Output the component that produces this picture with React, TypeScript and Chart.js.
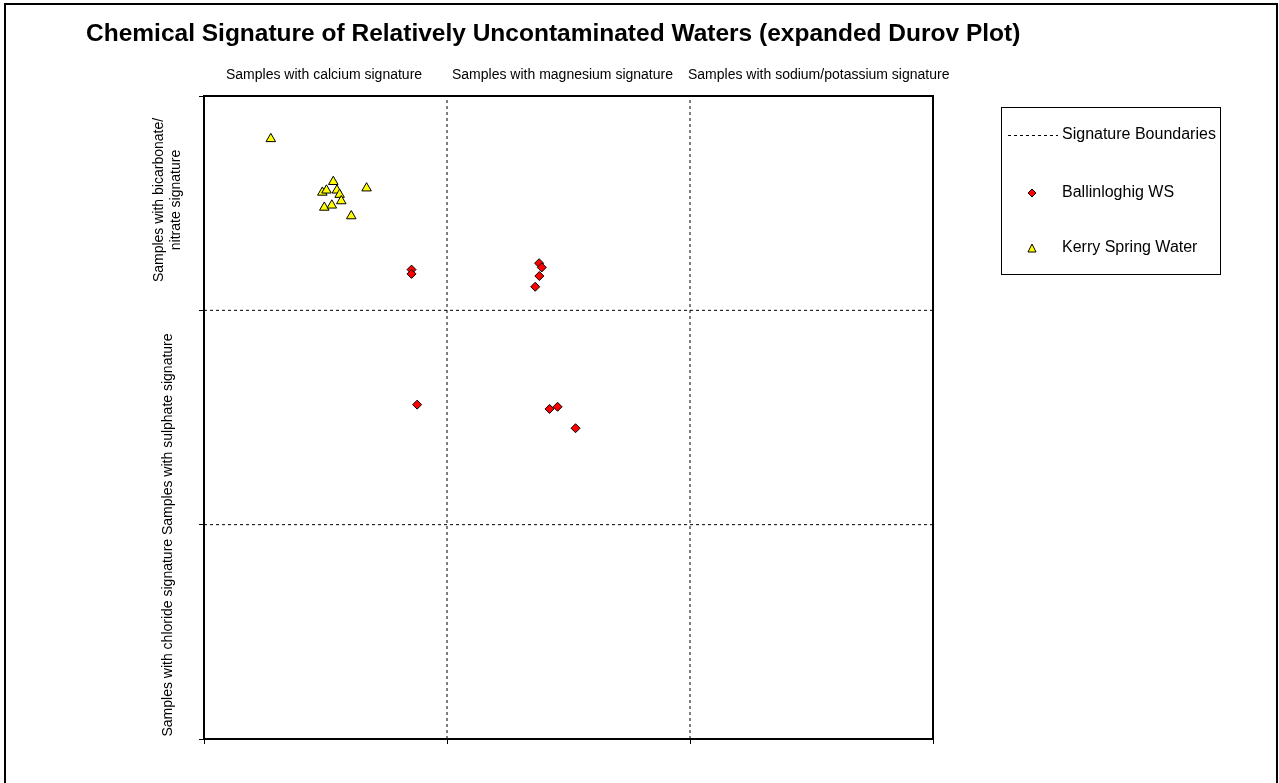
import React, { useEffect, useRef } from "react";
import { Chart, registerables } from "chart.js";

Chart.register(...registerables);

const TITLE = "Chemical Signature of Relatively Uncontaminated Waters (expanded Durov Plot)";
const COLUMN_LABELS = [
  "Samples with calcium signature",
  "Samples with magnesium signature",
  "Samples with sodium/potassium signature",
];
const ROW_LABEL_TOP = ["Samples with bicarbonate/", "nitrate signature"];
const ROW_LABEL_BOTTOM = "Samples with chloride signature Samples with sulphate signature";

const SERIES_NAMES = ["Signature Boundaries", "Ballinloghig WS", "Kerry Spring Water"];

const ballinX = [0.854, 0.854, 1.379, 1.39, 1.38, 1.363, 0.877, 1.422, 1.455, 1.529];
const ballinY = [2.19, 2.17, 2.22, 2.2, 2.16, 2.11, 1.56, 1.54, 1.55, 1.45];

const kerryX = [0.275, 0.532, 0.669, 0.487, 0.504, 0.547, 0.558, 0.565, 0.495, 0.526, 0.606];
const kerryY = [2.8, 2.6, 2.57, 2.55, 2.56, 2.56, 2.54, 2.51, 2.48, 2.49, 2.44];

const boundaryX = [1, 1, null, 2, 2, null, 0, 3, null, 0, 3];
const boundaryY = [0, 3, null, 0, 3, null, 1, 1, null, 2, 2];

const AXIS_MIN = 0;
const AXIS_MAX = 3;

const FONT = "'Liberation Sans', Arial, sans-serif";

const zip = (xs: (number | null)[], ys: (number | null)[]) =>
  xs.map((x, i) => ({ x: x as number, y: ys[i] as number }));

const decorPlugin = {
  id: "decor",
  afterDraw(chart: any) {
    const ctx = chart.ctx as CanvasRenderingContext2D;
    const a = chart.chartArea;
    ctx.save();
    // plot frame
    ctx.strokeStyle = "#000";
    ctx.lineWidth = 2;
    ctx.strokeRect(a.left, a.top, a.right - a.left, a.bottom - a.top);

    // title
    ctx.fillStyle = "#000";
    ctx.font = `bold 24.5px ${FONT}`;
    ctx.textAlign = "left";
    ctx.textBaseline = "middle";
    ctx.fillText(TITLE, 86, 34);

    // column labels
    ctx.font = `14px ${FONT}`;
    ctx.textAlign = "left";
    const colX = [226, 452, 688];
    COLUMN_LABELS.forEach((t, i) => {
      ctx.fillText(t, colX[i], 75);
    });

    // row labels (rotated)
    ctx.textAlign = "center";
    ctx.save();
    ctx.translate(167, 200);
    ctx.rotate(-Math.PI / 2);
    ctx.fillText(ROW_LABEL_TOP[0], 0, -8);
    ctx.fillText(ROW_LABEL_TOP[1], 0, 9);
    ctx.restore();
    ctx.save();
    ctx.translate(168, 535);
    ctx.rotate(-Math.PI / 2);
    ctx.fillText(ROW_LABEL_BOTTOM, 0, 0);
    ctx.restore();

    // legend
    const lx = 1001, ly = 107, lw = 219, lh = 167;
    ctx.lineWidth = 1;
    ctx.strokeRect(lx + 0.5, ly + 0.5, lw, lh);
    ctx.textAlign = "left";
    ctx.font = `16px ${FONT}`;
    // boundaries
    ctx.beginPath();
    ctx.setLineDash([3, 3]);
    ctx.moveTo(1008, 135.5);
    ctx.lineTo(1058, 135.5);
    ctx.stroke();
    ctx.setLineDash([]);
    ctx.fillText(SERIES_NAMES[0], 1062, 135);
    // diamond
    ctx.beginPath();
    ctx.moveTo(1032, 189);
    ctx.lineTo(1036, 193);
    ctx.lineTo(1032, 197);
    ctx.lineTo(1028, 193);
    ctx.closePath();
    ctx.fillStyle = "#ff0000";
    ctx.fill();
    ctx.strokeStyle = "#000";
    ctx.stroke();
    ctx.fillStyle = "#000";
    ctx.fillText(SERIES_NAMES[1], 1062, 193);
    // triangle
    ctx.beginPath();
    ctx.moveTo(1032, 244);
    ctx.lineTo(1036, 252);
    ctx.lineTo(1028, 252);
    ctx.closePath();
    ctx.fillStyle = "#ffff00";
    ctx.fill();
    ctx.stroke();
    ctx.fillStyle = "#000";
    ctx.fillText(SERIES_NAMES[2], 1062, 248);
    ctx.restore();
  },
};

export default function App() {
  const ref = useRef<HTMLCanvasElement>(null);
  useEffect(() => {
    if (!ref.current) return;
    const chart = new Chart(ref.current, {
      type: "scatter",
      data: {
        datasets: [
          {
            label: SERIES_NAMES[0],
            data: zip(boundaryX, boundaryY),
            showLine: true,
            spanGaps: false,
            borderColor: "#000",
            borderWidth: 1,
            borderDash: [3, 3],
            pointRadius: 0,
            order: 3,
          },
          {
            label: SERIES_NAMES[1],
            data: zip(ballinX, ballinY),
            pointStyle: "rectRot",
            pointRadius: 4.5,
            backgroundColor: "#ff0000",
            borderColor: "#000",
            borderWidth: 1,
            order: 2,
          },
          {
            label: SERIES_NAMES[2],
            data: zip(kerryX, kerryY),
            pointStyle: "triangle",
            pointRadius: 5.5,
            backgroundColor: "#ffff00",
            borderColor: "#000",
            borderWidth: 1,
            order: 1,
          },
        ],
      },
      options: {
        responsive: false,
        animation: false,
        events: [],
        layout: { padding: { left: 199, top: 96, right: 346, bottom: 39 } },
        plugins: {
          legend: { display: false },
          tooltip: { enabled: false },
          title: { display: false },
        },
        scales: {
          x: {
            type: "linear",
            min: AXIS_MIN,
            max: AXIS_MAX,
            ticks: { stepSize: 1, display: false },
            grid: { drawOnChartArea: false, drawTicks: true, tickLength: 5, color: "#000" },
            border: { color: "#000", width: 2 },
            afterFit: (s: any) => {
              s.height = 5;
            },
          },
          y: {
            type: "linear",
            min: AXIS_MIN,
            max: AXIS_MAX,
            ticks: { stepSize: 1, display: false },
            grid: { drawOnChartArea: false, drawTicks: true, tickLength: 5, color: "#000" },
            border: { color: "#000", width: 2 },
            afterFit: (s: any) => {
              s.width = 5;
            },
          },
        },
      },
      plugins: [decorPlugin],
    });
    return () => chart.destroy();
  }, []);

  return (
    <div style={{ position: "fixed", left: 0, top: 0, width: 1279, height: 783, background: "#fff" }}>
      <div
        style={{
          position: "absolute",
          left: 4,
          top: 3,
          width: 1270,
          height: 790,
          borderLeft: "2px solid #000",
          borderTop: "2px solid #000",
          borderRight: "2px solid #000",
        }}
      />
      <canvas ref={ref} width={1279} height={783} style={{ position: "absolute", left: 0, top: 0 }} />
    </div>
  );
}
